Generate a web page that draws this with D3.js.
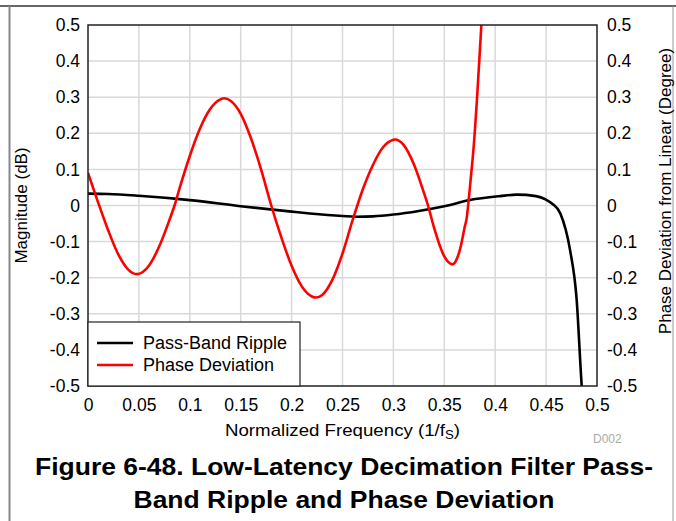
<!DOCTYPE html>
<html>
<head>
<meta charset="utf-8">
<script src="https://cdn.jsdelivr.net/npm/d3@7"></script>
<style>
  body { margin: 0; background: #fff; }
  svg { font-family: "Liberation Sans", Arial, sans-serif; }
  .grid line { stroke: #d9d9d9; stroke-width: 1.5; }
  .tick-label { font-size: 17.5px; fill: #000; }
</style>
</head>
<body>
<svg width="676" height="521"></svg>
<script>
// chart data
const xTicks = [0, 0.05, 0.1, 0.15, 0.2, 0.25, 0.3, 0.35, 0.4, 0.45, 0.5];
const yTicks = [-0.5, -0.4, -0.3, -0.2, -0.1, 0, 0.1, 0.2, 0.3, 0.4, 0.5];

// pass-band ripple (dB)
const rippleFreq = [0, 0.02, 0.05, 0.1, 0.15, 0.2, 0.218, 0.25, 0.264, 0.28, 0.3, 0.325, 0.35, 0.375, 0.405, 0.421, 0.44, 0.45, 0.456, 0.464, 0.4735, 0.48, 0.485, 0.488];
const rippleMag = [0.033, 0.032, 0.027, 0.015, -0.002, -0.017, -0.022, -0.029, -0.031, -0.03, -0.025, -0.015, -0.002, 0.015, 0.026, 0.03, 0.026, 0.016, 0.005, -0.022, -0.123, -0.26, -0.5, -0.6];

// phase deviation (degree)
const phaseFreq = [0, 0.01, 0.02, 0.03, 0.04, 0.048, 0.06, 0.07, 0.08, 0.085, 0.09, 0.1, 0.11, 0.12, 0.13, 0.134, 0.14, 0.15, 0.16, 0.17, 0.18, 0.19, 0.2, 0.21, 0.22, 0.224, 0.23, 0.24, 0.25, 0.26, 0.27, 0.28, 0.29, 0.3, 0.3016, 0.31, 0.32, 0.33, 0.334, 0.34, 0.35, 0.358, 0.362, 0.366, 0.37, 0.372, 0.3736, 0.376, 0.3786, 0.382, 0.3864, 0.39];
const phaseDev = [0.09, 0.008, -0.07, -0.137, -0.179, -0.19, -0.166, -0.113, -0.04, 0, 0.048, 0.137, 0.213, 0.267, 0.294, 0.297, 0.29, 0.254, 0.187, 0.1, 0.0, -0.089, -0.167, -0.224, -0.252, -0.255, -0.248, -0.206, -0.133, -0.04, 0.045, 0.113, 0.162, 0.182, 0.183, 0.168, 0.115, 0.035, 0, -0.062, -0.141, -0.163, -0.15, -0.115, -0.06, -0.035, 0.005, 0.075, 0.154, 0.29, 0.5, 0.68];

const legendLabels = ["Pass-Band Ripple", "Phase Deviation"];
const legendColors = ["#000", "#ff0000"];

const svg = d3.select("svg");

const x = d3.scaleLinear().domain([0, 0.5]).range([88, 597]);
const y = d3.scaleLinear().domain([-0.5, 0.5]).range([386, 25]);

// page frame
svg.append("line")
  .attr("x1", 0).attr("x2", 676).attr("y1", 6).attr("y2", 6)
  .attr("stroke", "#333").attr("stroke-width", 1.5);
svg.append("line")
  .attr("x1", 9.5).attr("x2", 9.5).attr("y1", 6).attr("y2", 521)
  .attr("stroke", "#888").attr("stroke-width", 2);
svg.append("line")
  .attr("x1", 673).attr("x2", 673).attr("y1", 6).attr("y2", 521)
  .attr("stroke", "#999").attr("stroke-width", 1);

// grid
const grid = svg.append("g").attr("class", "grid");
grid.selectAll(".gx")
  .data(xTicks.slice(1, -1))
  .enter()
  .append("line")
  .attr("x1", d => x(d)).attr("x2", d => x(d))
  .attr("y1", y(0.5)).attr("y2", y(-0.5));
grid.selectAll(".gy")
  .data(yTicks.slice(1, -1))
  .enter()
  .append("line")
  .attr("x1", x(0)).attr("x2", x(0.5))
  .attr("y1", d => y(d)).attr("y2", d => y(d));

// axes (labels only, the frame is the plot border)
// plain hyphen for negatives, like the original
const fmt = d => String(+d.toFixed(2));

const xAxis = svg.append("g")
  .attr("transform", "translate(0," + y(-0.5) + ")")
  .call(d3.axisBottom(x).tickValues(xTicks).tickSize(0).tickPadding(13).tickFormat(fmt));
const yLeft = svg.append("g")
  .attr("transform", "translate(" + x(0) + ",0)")
  .call(d3.axisLeft(y).tickValues(yTicks).tickSize(0).tickPadding(8).tickFormat(fmt));
const yRight = svg.append("g")
  .attr("transform", "translate(" + x(0.5) + ",0)")
  .call(d3.axisRight(y).tickValues(yTicks).tickSize(0).tickPadding(10).tickFormat(fmt));

[xAxis, yLeft, yRight].forEach(a => {
  a.select(".domain").remove();
  a.selectAll("text")
    .attr("class", "tick-label")
    .attr("font-family", null)
    .style("font-size", "17.5px");
});

// curves
svg.append("clipPath").attr("id", "plot-clip")
  .append("rect")
  .attr("x", x(0)).attr("y", y(0.5))
  .attr("width", x(0.5) - x(0)).attr("height", y(-0.5) - y(0.5));

const plot = svg.append("g").attr("clip-path", "url(#plot-clip)");

const line = d3.line()
  .x(d => x(d[0]))
  .y(d => y(d[1]))
  .curve(d3.curveMonotoneX);

plot.append("path")
  .datum(d3.zip(rippleFreq, rippleMag))
  .attr("fill", "none")
  .attr("stroke", "#000")
  .attr("stroke-width", 2.6)
  .attr("d", line);

plot.append("path")
  .datum(d3.zip(phaseFreq, phaseDev))
  .attr("fill", "none")
  .attr("stroke", "#ff0000")
  .attr("stroke-width", 2.6)
  .attr("d", line);

// plot border
svg.append("rect")
  .attr("x", x(0)).attr("y", y(0.5))
  .attr("width", x(0.5) - x(0)).attr("height", y(-0.5) - y(0.5))
  .attr("fill", "none")
  .attr("stroke", "#222")
  .attr("stroke-width", 1.5);

// legend
const legend = svg.append("g").attr("transform", "translate(88, 322)");
legend.append("rect")
  .attr("width", 212).attr("height", 64)
  .attr("fill", "#fff").attr("stroke", "#222").attr("stroke-width", 1.2);

const item = legend.selectAll(".item")
  .data(legendLabels)
  .enter()
  .append("g")
  .attr("transform", (d, i) => "translate(0," + (21 + i * 22) + ")");
item.append("line")
  .attr("x1", 9).attr("x2", 45)
  .attr("stroke", (d, i) => legendColors[i])
  .attr("stroke-width", 2.6);
item.append("text")
  .attr("x", 55)
  .attr("dy", "0.35em")
  .style("font-size", "18px")
  .text(d => d);

// axis titles
const xTitle = svg.append("text")
  .attr("x", 225)
  .attr("y", 436)
  .attr("textLength", 235)
  .attr("lengthAdjust", "spacingAndGlyphs")
  .style("font-size", "17px");
xTitle.append("tspan").text("Normalized Frequency (1/f");
xTitle.append("tspan").attr("dy", 3).style("font-size", "12px").text("S");
xTitle.append("tspan").attr("dy", -3).text(")");

svg.append("text")
  .attr("transform", "translate(27," + y(0) + ") rotate(-90)")
  .attr("text-anchor", "middle")
  .style("font-size", "17px")
  .text("Magnitude (dB)");

svg.append("text")
  .attr("transform", "translate(671,191) rotate(-90)")
  .attr("text-anchor", "middle")
  .style("font-size", "17px")
  .text("Phase Deviation from Linear (Degree)");

svg.append("text")
  .attr("x", 593)
  .attr("y", 443)
  .attr("fill", "#aaa")
  .style("font-size", "12px")
  .text("D002");

// figure caption
const caption = ["Figure 6-48. Low-Latency Decimation Filter Pass-", "Band Ripple and Phase Deviation"];
const captionWidth = [618, 421];
svg.selectAll(".caption")
  .data(caption)
  .enter()
  .append("text")
  .attr("class", "caption")
  .attr("x", (d, i) => 344 - captionWidth[i] / 2)
  .attr("y", (d, i) => 475 + i * 33)
  .attr("textLength", (d, i) => captionWidth[i])
  .attr("lengthAdjust", "spacingAndGlyphs")
  .style("font-size", "23px")
  .style("font-weight", "bold")
  .text(d => d);
</script>
</body>
</html>
